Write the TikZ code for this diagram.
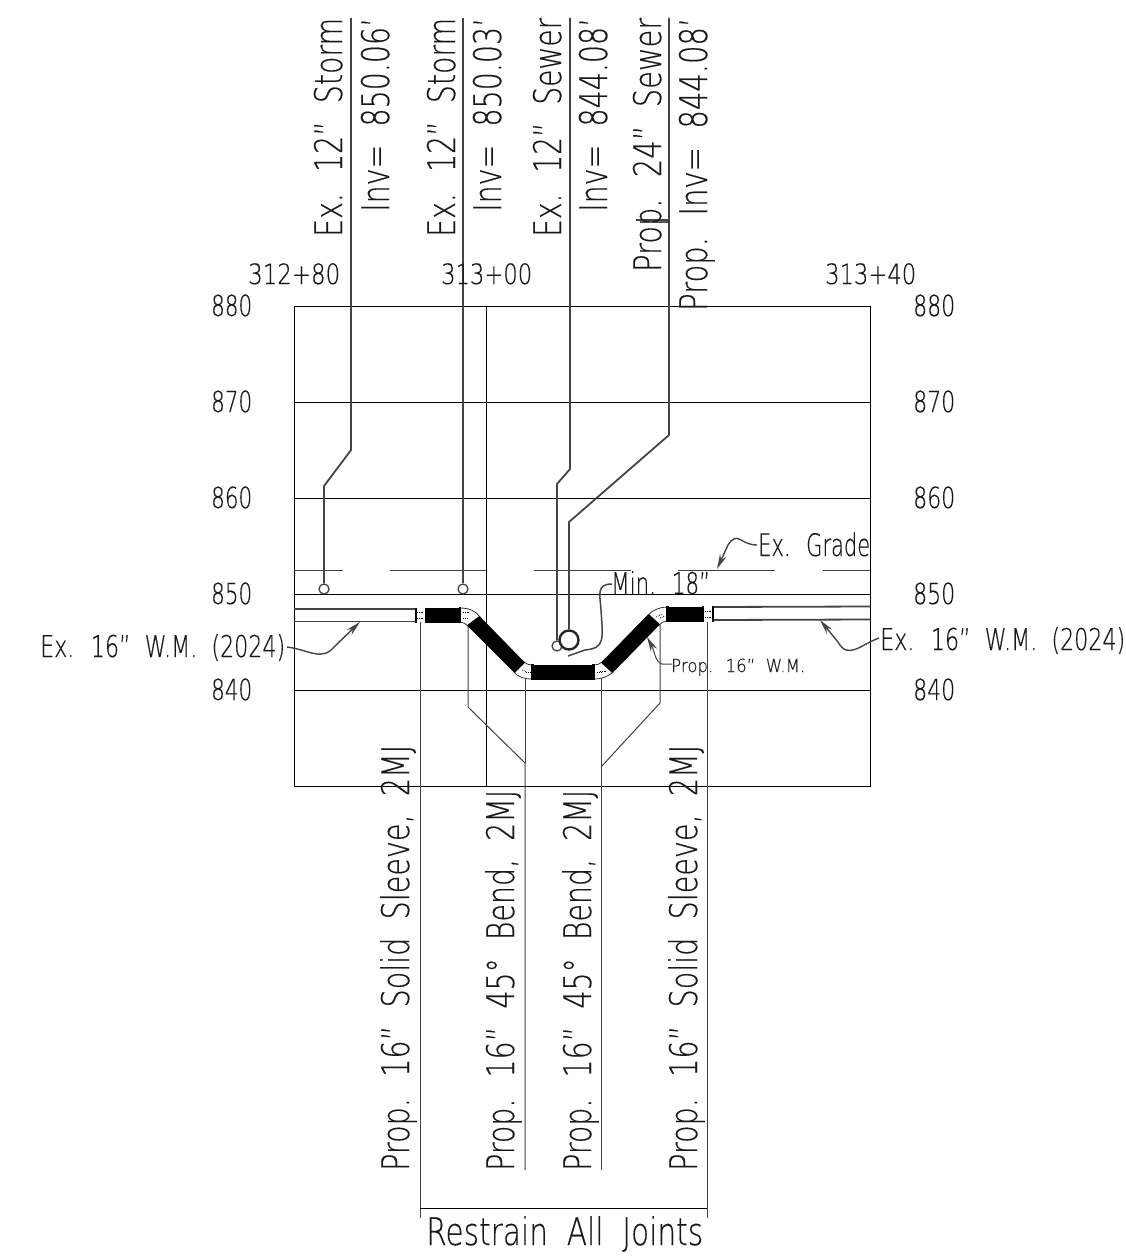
\documentclass[tikz,border=0pt]{standalone}
\usepackage{graphicx}
\usepackage{fontspec}
\usetikzlibrary{arrows.meta}
\newfontfamily\cadf[WordSpace=2,FakeBold=0.4]{DejaVu Sans ExtraLight}
\newbox\fwbox
\newcommand{\fw}[3]{\setbox\fwbox\hbox{\fontsize{#1}{#1}\cadf #3}\pgfmathsetmacro\fwr{#2/\the\wd\fwbox}\scalebox{\fwr}[1]{\box\fwbox}}
\definecolor{lead}{HTML}{444444}
\tikzset{
 grid/.style={black,line width=.85pt},
 thin line/.style={black!75,line width=1pt},
 pipe/.style={lead,line width=1.8pt},
 wm/.style={lead,line width=1.8pt},
 vlab/.style={rotate=90,anchor=base west,inner sep=0pt,text=black!90},
 hlab/.style={anchor=base west,inner sep=0pt,text=black!90},
 lead arrow/.style={lead,line width=1.4pt,-{Stealth[length=15pt,width=7pt,inset=5pt]}},
 blackpipe/.style={fill=black,draw=black,line width=.5pt},
 coupling/.style={black,line width=2.4pt},
 dotline/.style={black,line width=.8pt,densely dotted},
 bendbody/.style={fill=white,draw=black!80,line width=.8pt},
}
\begin{document}
\begin{tikzpicture}[x=1pt,y=-1pt]
\useasboundingbox (0,0) rectangle (1125,1260);
% frame and grid
\draw[grid] (294,306) rectangle (870,786);
\foreach \yy in {402,498,594,690} \draw[grid] (294,\yy) -- (870,\yy);
\draw[grid] (486,306) -- (486,786);
% grade
\foreach \aa/\bb in {294/343,390/486,534/631,678/775,823/870} \draw[thin line] (\aa,570) -- (\bb,570);
% utility leaders
\coordinate (s1) at (324,589); \coordinate (s2) at (463,589);
\coordinate (s3) at (557,646); \coordinate (s4) at (569,640);
\node[draw=lead,line width=1.3pt,circle,minimum size=10pt,inner sep=0pt,fill=white] (c1) at (s1) {};
\node[draw=lead,line width=1.3pt,circle,minimum size=10pt,inner sep=0pt,fill=white] (c2) at (s2) {};
\node[draw=lead,line width=1.3pt,circle,minimum size=10pt,inner sep=0pt] (c3) at (s3) {};
\node[draw=black!85,line width=2.4pt,circle,minimum size=19pt,inner sep=0pt,fill=white] (c4) at (s4) {};
\draw[pipe] (351,18) -- (351,450) -- (324,486) -- (c1.north);
\draw[pipe] (463,18) -- (c2.north);
\draw[pipe] (570,18) -- (570,469) -- (557,484) -- (c3.north);
\draw[pipe] (669,18) -- (669,435) -- (569,522) -- (c4.north);
\draw[pipe,line width=1.2pt] (636,220) -- (669,220);
% water main
\draw[wm] (294,609) -- (415,609); \draw[wm] (294,621.5) -- (415,621.5);
\draw[wm] (713,607) -- (870,606.5); \draw[wm] (713,620) -- (870,619.5);
% drop lines
\draw[thin line] (420,622) -- (420,1218);
\draw[thin line] (468,626) -- (468,707) -- (525,763) -- (525,1170);
\draw[thin line] (525,675) -- (525,763);
\draw[thin line] (601,675) -- (601,1170);
\draw[thin line] (660,625) -- (660,703) -- (601,767);
\draw[thin line] (707,622) -- (707,1218);
\draw[grid] (420,1208) -- (707,1208);
% black pipes
\fill[blackpipe] (426,608.5) rectangle (459,622);
\fill[blackpipe] (480,617) -- (468,626) -- (514,672) -- (524,662) -- cycle;
\fill[blackpipe] (533,665) rectangle (593,679);
\fill[blackpipe] (602,662) -- (613,672) -- (659,625) -- (648,615) -- cycle;
\fill[blackpipe] (668,607) rectangle (703,621);
% bends
\draw[bendbody] (460,608) .. controls (469,608) and (476,611) .. (480,617) -- (468,626) .. controls (466,624) and (463,622) .. (460,622) -- cycle;
\draw[bendbody] (514,672) -- (524,662) .. controls (526,664) and (529,665) .. (532,665) -- (532,679) .. controls (524,679) and (518,677) .. (514,672);
\draw[bendbody] (594,665) .. controls (597,665) and (600,664) .. (602,662) -- (613,672) .. controls (608,677) and (601,679) .. (594,679) -- cycle;
\draw[bendbody] (648,615) .. controls (653,610) and (660,607) .. (667,607) -- (667,621) .. controls (664,621) and (661,623) .. (659,625) -- cycle;
\draw[dotline] (463,612) -- (470,612); \draw[dotline] (463,618) -- (468,618);
\draw[dotline] (522,670) -- (527,672); \draw[dotline] (526,672) -- (530,672);
\draw[dotline] (600,671) -- (606,671); \draw[dotline] (597,672) -- (601,672);
\draw[dotline] (656,617) -- (662,614); \draw[dotline] (660,618) -- (665,616);
\draw[coupling] (460,607) -- (460,623); \draw[coupling] (532.5,664) -- (532.5,680);
\draw[coupling] (593.5,664) -- (593.5,680); \draw[coupling] (667.5,606) -- (667.5,622);
\draw[coupling] (468,626) -- (480,617); \draw[coupling] (514,672) -- (524,662);
\draw[coupling] (602,662) -- (613,672); \draw[coupling] (648,615) -- (659,625);
% sleeves
\draw[coupling,line width=2pt] (415.5,607.5) -- (415.5,623); \draw[coupling,line width=2pt] (425.5,607.5) -- (425.5,623);
\draw[dotline] (417,612) -- (424,612); \draw[dotline] (417,618) -- (424,618);
\draw[coupling,line width=2.2pt] (703,606) -- (703,622); \draw[coupling,line width=2pt] (713,606) -- (713,622);
\draw[dotline] (705,611) -- (711,611); \draw[dotline] (705,617) -- (711,617);
% vertical labels top
\node[vlab] (t1) at (342,237) {\fw{38}{219}{Ex. 12” Storm}};
\node[vlab] (t2) at (389,212) {\fw{38}{194}{Inv= 850.06’}};
\node[vlab] (t3) at (455,237) {\fw{38}{219}{Ex. 12” Storm}};
\node[vlab] (t4) at (501,212) {\fw{38}{194}{Inv= 850.03’}};
\node[vlab] (t5) at (561,237) {\fw{38}{219}{Ex. 12” Sewer}};
\node[vlab] (t6) at (607,212) {\fw{38}{194}{Inv= 844.08’}};
\node[vlab] (t7) at (661,272) {\fw{38}{254}{Prop. 24” Sewer}};
\node[vlab] (t8) at (707,311) {\fw{38}{293}{Prop. Inv= 844.08’}};
% vertical labels bottom
\node[vlab] (b1) at (409,1171) {\fw{38}{426}{Prop. 16” Solid Sleeve, 2MJ}};
\node[vlab] (b2) at (514,1171) {\fw{38}{381}{Prop. 16” 45° Bend, 2MJ}};
\node[vlab] (b3) at (591,1171) {\fw{38}{381}{Prop. 16” 45° Bend, 2MJ}};
\node[vlab] (b4) at (697,1171) {\fw{38}{426}{Prop. 16” Solid Sleeve, 2MJ}};
\node[hlab] (restrain) at (426,1245) {\fw{38}{277}{Restrain All Joints}};
% axis
\node[hlab] (st1) at (248,284) {\fw{28}{92}{312+80}};
\node[hlab] (st2) at (441,284) {\fw{28}{91}{313+00}};
\node[hlab] (st3) at (825,284) {\fw{28}{91}{313+40}};
\foreach \val/\yy in {880/316,870/412,860/508,850/604,840/700}{
 \node[hlab] (l\val) at (211,\yy) {\fw{29}{41}{\val}};
 \node[hlab] (r\val) at (913,\yy) {\fw{29}{42}{\val}};
}
% callouts
\node[hlab] (exl) at (40,657) {\fw{30}{245}{Ex. 16” W.M. (2024)}};
\node[hlab] (exr) at (880,650) {\fw{30}{245}{Ex. 16” W.M. (2024)}};
\node[hlab] (grade) at (758,556) {\fw{31}{112}{Ex. Grade}};
\node[hlab] (minn) at (611,594) {\fw{30}{99}{Min. 18”}};
\node[hlab] (prop) at (671,672) {\fw{18}{134}{Prop. 16” W.M.}};
\coordinate (ta) at (360,622); \coordinate (tb) at (820,620);
\coordinate (tc) at (717,569); \coordinate (td) at (568,656); \coordinate (te) at (647,637);
\draw[lead arrow] (287,647) .. controls (310,650) and (322,662) .. (335,646) -- (ta);
\draw[lead arrow] (879,638) .. controls (860,645) and (848,660) .. (838,642) -- (tb);
\draw[lead arrow] (757,545) .. controls (740,545) and (738,530) .. (728,545) -- (tc);
\draw[lead,line width=1.5pt] (612,584) .. controls (596,584) and (600,595) .. (601,610) .. controls (603,640) and (605,648) .. (585,650) -- (td);
\draw[lead arrow,line width=1pt] (672,664) -- (662,664) .. controls (655,662) and (655,652) .. (te);
\end{tikzpicture}
\end{document}
